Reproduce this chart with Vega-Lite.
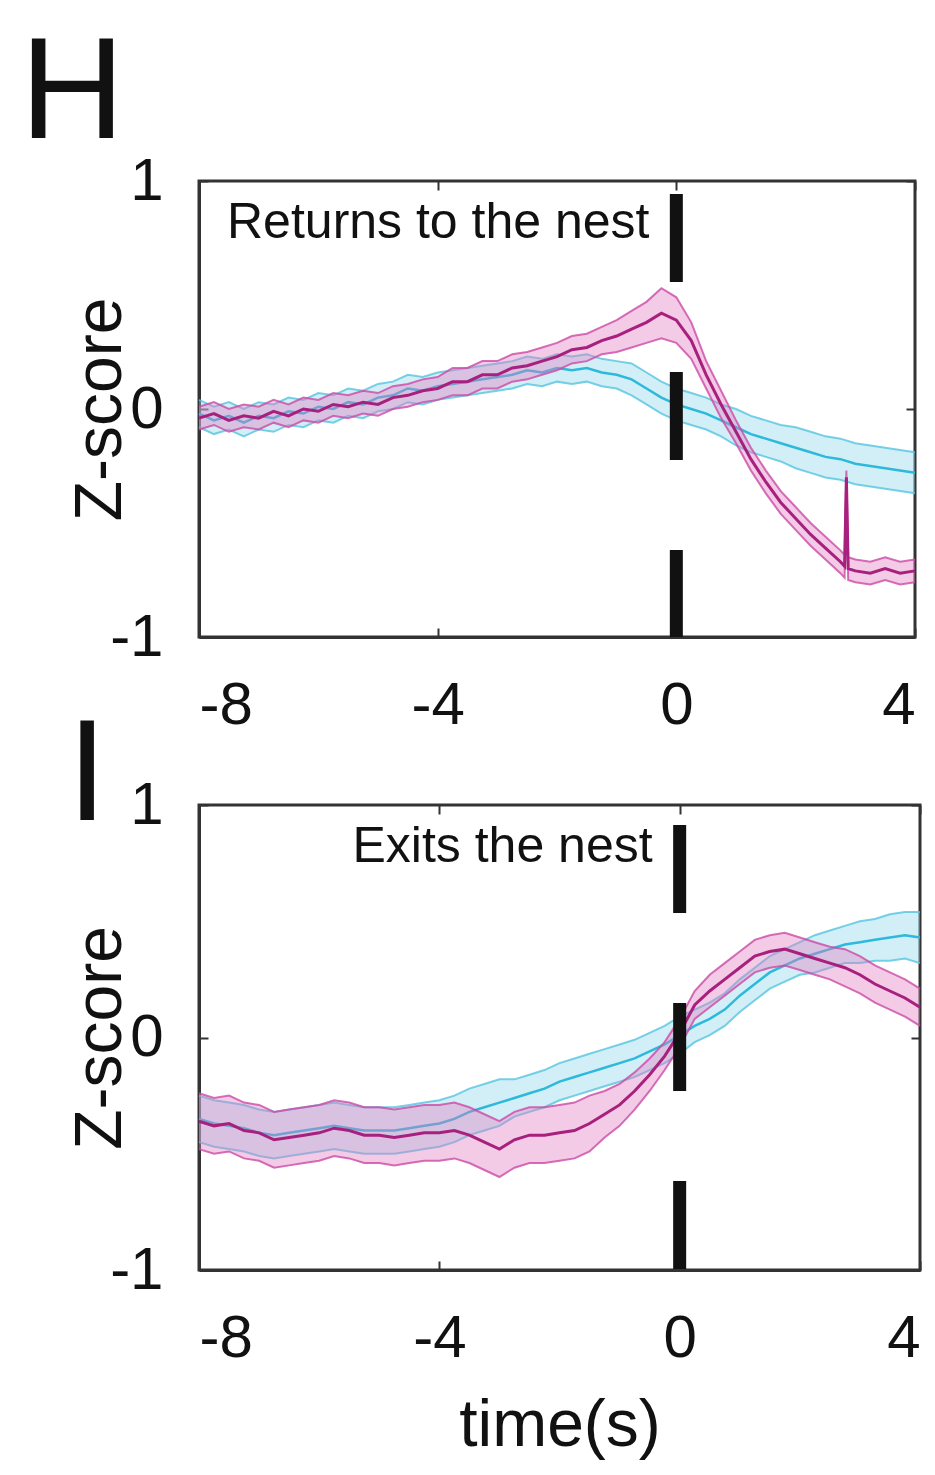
{
"$schema":"https://vega.github.io/schema/vega-lite/v6.json",
"padding":{"top":20,"left":18,"right":10,"bottom":10},
"background":"white",
"spacing":-35,
"config":{
 "font":"Liberation Sans",
 "view":{"stroke":"#333","strokeWidth":3},
 "axis":{"grid":false,"domainColor":"#333","domainWidth":3,"tickColor":"#333","tickWidth":2,"tickSize":-9,"labelFont":"Liberation Sans","labelFontSize":60,"labelColor":"#111","titleFont":"Liberation Sans","titleFontSize":66,"titleFontWeight":"normal","titleColor":"#111","labelExpr":"'' + datum.value"},
 "title":{"font":"Liberation Sans","fontWeight":"normal","color":"#111"}
},
"datasets":{"d":[
{"p":"H","g":"m","t":-8,"m":-0.04,"lo":-0.09,"hi":0.01},
{"p":"H","g":"m","t":-7.75,"m":-0.02,"lo":-0.07,"hi":0.03},
{"p":"H","g":"m","t":-7.5,"m":-0.05,"lo":-0.10,"hi":0.00},
{"p":"H","g":"m","t":-7.25,"m":-0.03,"lo":-0.08,"hi":0.02},
{"p":"H","g":"m","t":-7,"m":-0.04,"lo":-0.09,"hi":0.01},
{"p":"H","g":"m","t":-6.75,"m":-0.01,"lo":-0.06,"hi":0.04},
{"p":"H","g":"m","t":-6.5,"m":-0.03,"lo":-0.08,"hi":0.02},
{"p":"H","g":"m","t":-6.25,"m":0.00,"lo":-0.05,"hi":0.05},
{"p":"H","g":"m","t":-6,"m":-0.01,"lo":-0.06,"hi":0.04},
{"p":"H","g":"m","t":-5.75,"m":0.02,"lo":-0.03,"hi":0.07},
{"p":"H","g":"m","t":-5.5,"m":0.01,"lo":-0.04,"hi":0.06},
{"p":"H","g":"m","t":-5.25,"m":0.03,"lo":-0.02,"hi":0.08},
{"p":"H","g":"m","t":-5,"m":0.02,"lo":-0.03,"hi":0.07},
{"p":"H","g":"m","t":-4.75,"m":0.05,"lo":0.00,"hi":0.10},
{"p":"H","g":"m","t":-4.5,"m":0.06,"lo":0.01,"hi":0.11},
{"p":"H","g":"m","t":-4.25,"m":0.08,"lo":0.03,"hi":0.13},
{"p":"H","g":"m","t":-4,"m":0.09,"lo":0.04,"hi":0.14},
{"p":"H","g":"m","t":-3.75,"m":0.12,"lo":0.06,"hi":0.18},
{"p":"H","g":"m","t":-3.5,"m":0.12,"lo":0.06,"hi":0.18},
{"p":"H","g":"m","t":-3.25,"m":0.15,"lo":0.09,"hi":0.21},
{"p":"H","g":"m","t":-3,"m":0.15,"lo":0.09,"hi":0.21},
{"p":"H","g":"m","t":-2.75,"m":0.18,"lo":0.12,"hi":0.24},
{"p":"H","g":"m","t":-2.5,"m":0.19,"lo":0.13,"hi":0.25},
{"p":"H","g":"m","t":-2.25,"m":0.21,"lo":0.15,"hi":0.27},
{"p":"H","g":"m","t":-2,"m":0.23,"lo":0.17,"hi":0.29},
{"p":"H","g":"m","t":-1.75,"m":0.26,"lo":0.20,"hi":0.32},
{"p":"H","g":"m","t":-1.5,"m":0.27,"lo":0.21,"hi":0.33},
{"p":"H","g":"m","t":-1.25,"m":0.30,"lo":0.24,"hi":0.36},
{"p":"H","g":"m","t":-1,"m":0.32,"lo":0.25,"hi":0.39},
{"p":"H","g":"m","t":-0.75,"m":0.35,"lo":0.27,"hi":0.43},
{"p":"H","g":"m","t":-0.5,"m":0.38,"lo":0.29,"hi":0.47},
{"p":"H","g":"m","t":-0.25,"m":0.42,"lo":0.31,"hi":0.53},
{"p":"H","g":"m","t":0,"m":0.39,"lo":0.29,"hi":0.49},
{"p":"H","g":"m","t":0.25,"m":0.30,"lo":0.22,"hi":0.38},
{"p":"H","g":"m","t":0.5,"m":0.15,"lo":0.09,"hi":0.21},
{"p":"H","g":"m","t":0.75,"m":0.02,"lo":-0.04,"hi":0.08},
{"p":"H","g":"m","t":1,"m":-0.10,"lo":-0.15,"hi":-0.05},
{"p":"H","g":"m","t":1.25,"m":-0.22,"lo":-0.27,"hi":-0.17},
{"p":"H","g":"m","t":1.5,"m":-0.32,"lo":-0.37,"hi":-0.27},
{"p":"H","g":"m","t":1.75,"m":-0.41,"lo":-0.46,"hi":-0.36},
{"p":"H","g":"m","t":2,"m":-0.48,"lo":-0.53,"hi":-0.43},
{"p":"H","g":"m","t":2.25,"m":-0.55,"lo":-0.60,"hi":-0.50},
{"p":"H","g":"m","t":2.5,"m":-0.61,"lo":-0.66,"hi":-0.56},
{"p":"H","g":"m","t":2.75,"m":-0.67,"lo":-0.72,"hi":-0.62},
{"p":"H","g":"m","t":2.82,"m":-0.69,"lo":-0.74,"hi":-0.64},
{"p":"H","g":"m","t":2.85,"m":-0.30,"lo":-0.33,"hi":-0.27},
{"p":"H","g":"m","t":2.88,"m":-0.70,"lo":-0.75,"hi":-0.65},
{"p":"H","g":"m","t":3,"m":-0.71,"lo":-0.76,"hi":-0.66},
{"p":"H","g":"m","t":3.25,"m":-0.72,"lo":-0.77,"hi":-0.67},
{"p":"H","g":"m","t":3.5,"m":-0.70,"lo":-0.75,"hi":-0.65},
{"p":"H","g":"m","t":3.75,"m":-0.72,"lo":-0.77,"hi":-0.67},
{"p":"H","g":"m","t":4,"m":-0.71,"lo":-0.76,"hi":-0.66},
{"p":"H","g":"c","t":-8,"m":-0.02,"lo":-0.08,"hi":0.04},
{"p":"H","g":"c","t":-7.75,"m":-0.05,"lo":-0.11,"hi":0.01},
{"p":"H","g":"c","t":-7.5,"m":-0.03,"lo":-0.09,"hi":0.03},
{"p":"H","g":"c","t":-7.25,"m":-0.06,"lo":-0.12,"hi":0.00},
{"p":"H","g":"c","t":-7,"m":-0.03,"lo":-0.09,"hi":0.03},
{"p":"H","g":"c","t":-6.75,"m":-0.04,"lo":-0.10,"hi":0.02},
{"p":"H","g":"c","t":-6.5,"m":-0.01,"lo":-0.07,"hi":0.05},
{"p":"H","g":"c","t":-6.25,"m":-0.02,"lo":-0.08,"hi":0.04},
{"p":"H","g":"c","t":-6,"m":0.01,"lo":-0.05,"hi":0.07},
{"p":"H","g":"c","t":-5.75,"m":0.00,"lo":-0.06,"hi":0.06},
{"p":"H","g":"c","t":-5.5,"m":0.03,"lo":-0.03,"hi":0.09},
{"p":"H","g":"c","t":-5.25,"m":0.02,"lo":-0.04,"hi":0.08},
{"p":"H","g":"c","t":-5,"m":0.05,"lo":-0.01,"hi":0.11},
{"p":"H","g":"c","t":-4.75,"m":0.06,"lo":0.00,"hi":0.12},
{"p":"H","g":"c","t":-4.5,"m":0.09,"lo":0.03,"hi":0.15},
{"p":"H","g":"c","t":-4.25,"m":0.08,"lo":0.02,"hi":0.14},
{"p":"H","g":"c","t":-4,"m":0.10,"lo":0.04,"hi":0.16},
{"p":"H","g":"c","t":-3.75,"m":0.11,"lo":0.05,"hi":0.17},
{"p":"H","g":"c","t":-3.5,"m":0.12,"lo":0.06,"hi":0.18},
{"p":"H","g":"c","t":-3.25,"m":0.13,"lo":0.07,"hi":0.19},
{"p":"H","g":"c","t":-3,"m":0.14,"lo":0.08,"hi":0.20},
{"p":"H","g":"c","t":-2.75,"m":0.15,"lo":0.09,"hi":0.21},
{"p":"H","g":"c","t":-2.5,"m":0.17,"lo":0.11,"hi":0.23},
{"p":"H","g":"c","t":-2.25,"m":0.16,"lo":0.10,"hi":0.22},
{"p":"H","g":"c","t":-2,"m":0.18,"lo":0.12,"hi":0.24},
{"p":"H","g":"c","t":-1.75,"m":0.17,"lo":0.11,"hi":0.23},
{"p":"H","g":"c","t":-1.5,"m":0.18,"lo":0.12,"hi":0.24},
{"p":"H","g":"c","t":-1.25,"m":0.16,"lo":0.10,"hi":0.22},
{"p":"H","g":"c","t":-1,"m":0.15,"lo":0.09,"hi":0.21},
{"p":"H","g":"c","t":-0.75,"m":0.13,"lo":0.06,"hi":0.20},
{"p":"H","g":"c","t":-0.5,"m":0.09,"lo":0.02,"hi":0.16},
{"p":"H","g":"c","t":-0.25,"m":0.05,"lo":-0.02,"hi":0.12},
{"p":"H","g":"c","t":0,"m":0.02,"lo":-0.05,"hi":0.09},
{"p":"H","g":"c","t":0.25,"m":0.00,"lo":-0.07,"hi":0.07},
{"p":"H","g":"c","t":0.5,"m":-0.02,"lo":-0.09,"hi":0.05},
{"p":"H","g":"c","t":0.75,"m":-0.05,"lo":-0.12,"hi":0.02},
{"p":"H","g":"c","t":1,"m":-0.08,"lo":-0.16,"hi":0.00},
{"p":"H","g":"c","t":1.25,"m":-0.11,"lo":-0.19,"hi":-0.03},
{"p":"H","g":"c","t":1.5,"m":-0.13,"lo":-0.21,"hi":-0.05},
{"p":"H","g":"c","t":1.75,"m":-0.15,"lo":-0.23,"hi":-0.07},
{"p":"H","g":"c","t":2,"m":-0.17,"lo":-0.26,"hi":-0.08},
{"p":"H","g":"c","t":2.25,"m":-0.19,"lo":-0.28,"hi":-0.10},
{"p":"H","g":"c","t":2.5,"m":-0.21,"lo":-0.30,"hi":-0.12},
{"p":"H","g":"c","t":2.75,"m":-0.22,"lo":-0.31,"hi":-0.13},
{"p":"H","g":"c","t":3,"m":-0.24,"lo":-0.33,"hi":-0.15},
{"p":"H","g":"c","t":3.25,"m":-0.25,"lo":-0.34,"hi":-0.16},
{"p":"H","g":"c","t":3.5,"m":-0.26,"lo":-0.35,"hi":-0.17},
{"p":"H","g":"c","t":3.75,"m":-0.27,"lo":-0.36,"hi":-0.18},
{"p":"H","g":"c","t":4,"m":-0.28,"lo":-0.37,"hi":-0.19},
{"p":"I","g":"m","t":-8,"m":-0.36,"lo":-0.48,"hi":-0.24},
{"p":"I","g":"m","t":-7.75,"m":-0.38,"lo":-0.50,"hi":-0.26},
{"p":"I","g":"m","t":-7.5,"m":-0.37,"lo":-0.49,"hi":-0.25},
{"p":"I","g":"m","t":-7.25,"m":-0.40,"lo":-0.52,"hi":-0.28},
{"p":"I","g":"m","t":-7,"m":-0.41,"lo":-0.53,"hi":-0.29},
{"p":"I","g":"m","t":-6.75,"m":-0.44,"lo":-0.56,"hi":-0.32},
{"p":"I","g":"m","t":-6.5,"m":-0.43,"lo":-0.55,"hi":-0.31},
{"p":"I","g":"m","t":-6.25,"m":-0.42,"lo":-0.54,"hi":-0.30},
{"p":"I","g":"m","t":-6,"m":-0.41,"lo":-0.53,"hi":-0.29},
{"p":"I","g":"m","t":-5.75,"m":-0.39,"lo":-0.51,"hi":-0.27},
{"p":"I","g":"m","t":-5.5,"m":-0.40,"lo":-0.52,"hi":-0.28},
{"p":"I","g":"m","t":-5.25,"m":-0.42,"lo":-0.54,"hi":-0.30},
{"p":"I","g":"m","t":-5,"m":-0.42,"lo":-0.54,"hi":-0.30},
{"p":"I","g":"m","t":-4.75,"m":-0.43,"lo":-0.55,"hi":-0.31},
{"p":"I","g":"m","t":-4.5,"m":-0.42,"lo":-0.54,"hi":-0.30},
{"p":"I","g":"m","t":-4.25,"m":-0.41,"lo":-0.53,"hi":-0.29},
{"p":"I","g":"m","t":-4,"m":-0.41,"lo":-0.53,"hi":-0.29},
{"p":"I","g":"m","t":-3.75,"m":-0.40,"lo":-0.52,"hi":-0.28},
{"p":"I","g":"m","t":-3.5,"m":-0.42,"lo":-0.54,"hi":-0.30},
{"p":"I","g":"m","t":-3.25,"m":-0.45,"lo":-0.57,"hi":-0.33},
{"p":"I","g":"m","t":-3,"m":-0.48,"lo":-0.60,"hi":-0.36},
{"p":"I","g":"m","t":-2.75,"m":-0.44,"lo":-0.56,"hi":-0.32},
{"p":"I","g":"m","t":-2.5,"m":-0.42,"lo":-0.54,"hi":-0.30},
{"p":"I","g":"m","t":-2.25,"m":-0.42,"lo":-0.54,"hi":-0.30},
{"p":"I","g":"m","t":-2,"m":-0.41,"lo":-0.53,"hi":-0.29},
{"p":"I","g":"m","t":-1.75,"m":-0.40,"lo":-0.52,"hi":-0.28},
{"p":"I","g":"m","t":-1.5,"m":-0.37,"lo":-0.49,"hi":-0.25},
{"p":"I","g":"m","t":-1.25,"m":-0.33,"lo":-0.43,"hi":-0.23},
{"p":"I","g":"m","t":-1,"m":-0.29,"lo":-0.38,"hi":-0.20},
{"p":"I","g":"m","t":-0.75,"m":-0.23,"lo":-0.31,"hi":-0.15},
{"p":"I","g":"m","t":-0.5,"m":-0.16,"lo":-0.23,"hi":-0.09},
{"p":"I","g":"m","t":-0.25,"m":-0.08,"lo":-0.14,"hi":-0.02},
{"p":"I","g":"m","t":0,"m":0.02,"lo":-0.04,"hi":0.08},
{"p":"I","g":"m","t":0.25,"m":0.14,"lo":0.08,"hi":0.20},
{"p":"I","g":"m","t":0.5,"m":0.20,"lo":0.13,"hi":0.27},
{"p":"I","g":"m","t":0.75,"m":0.25,"lo":0.18,"hi":0.32},
{"p":"I","g":"m","t":1,"m":0.30,"lo":0.23,"hi":0.37},
{"p":"I","g":"m","t":1.25,"m":0.35,"lo":0.28,"hi":0.42},
{"p":"I","g":"m","t":1.5,"m":0.37,"lo":0.30,"hi":0.44},
{"p":"I","g":"m","t":1.75,"m":0.38,"lo":0.31,"hi":0.45},
{"p":"I","g":"m","t":2,"m":0.36,"lo":0.29,"hi":0.43},
{"p":"I","g":"m","t":2.25,"m":0.34,"lo":0.27,"hi":0.41},
{"p":"I","g":"m","t":2.5,"m":0.32,"lo":0.25,"hi":0.39},
{"p":"I","g":"m","t":2.75,"m":0.30,"lo":0.22,"hi":0.38},
{"p":"I","g":"m","t":3,"m":0.27,"lo":0.19,"hi":0.35},
{"p":"I","g":"m","t":3.25,"m":0.23,"lo":0.15,"hi":0.31},
{"p":"I","g":"m","t":3.5,"m":0.20,"lo":0.12,"hi":0.28},
{"p":"I","g":"m","t":3.75,"m":0.17,"lo":0.09,"hi":0.25},
{"p":"I","g":"m","t":4,"m":0.13,"lo":0.05,"hi":0.21},
{"p":"I","g":"c","t":-8,"m":-0.35,"lo":-0.45,"hi":-0.25},
{"p":"I","g":"c","t":-7.75,"m":-0.37,"lo":-0.47,"hi":-0.27},
{"p":"I","g":"c","t":-7.5,"m":-0.38,"lo":-0.48,"hi":-0.28},
{"p":"I","g":"c","t":-7.25,"m":-0.39,"lo":-0.49,"hi":-0.29},
{"p":"I","g":"c","t":-7,"m":-0.41,"lo":-0.51,"hi":-0.31},
{"p":"I","g":"c","t":-6.75,"m":-0.42,"lo":-0.52,"hi":-0.32},
{"p":"I","g":"c","t":-6.5,"m":-0.41,"lo":-0.51,"hi":-0.31},
{"p":"I","g":"c","t":-6.25,"m":-0.40,"lo":-0.50,"hi":-0.30},
{"p":"I","g":"c","t":-6,"m":-0.39,"lo":-0.49,"hi":-0.29},
{"p":"I","g":"c","t":-5.75,"m":-0.38,"lo":-0.48,"hi":-0.28},
{"p":"I","g":"c","t":-5.5,"m":-0.39,"lo":-0.49,"hi":-0.29},
{"p":"I","g":"c","t":-5.25,"m":-0.40,"lo":-0.50,"hi":-0.30},
{"p":"I","g":"c","t":-5,"m":-0.40,"lo":-0.50,"hi":-0.30},
{"p":"I","g":"c","t":-4.75,"m":-0.40,"lo":-0.50,"hi":-0.30},
{"p":"I","g":"c","t":-4.5,"m":-0.39,"lo":-0.49,"hi":-0.29},
{"p":"I","g":"c","t":-4.25,"m":-0.38,"lo":-0.48,"hi":-0.28},
{"p":"I","g":"c","t":-4,"m":-0.37,"lo":-0.47,"hi":-0.27},
{"p":"I","g":"c","t":-3.75,"m":-0.35,"lo":-0.45,"hi":-0.25},
{"p":"I","g":"c","t":-3.5,"m":-0.32,"lo":-0.42,"hi":-0.22},
{"p":"I","g":"c","t":-3.25,"m":-0.30,"lo":-0.40,"hi":-0.20},
{"p":"I","g":"c","t":-3,"m":-0.28,"lo":-0.38,"hi":-0.18},
{"p":"I","g":"c","t":-2.75,"m":-0.26,"lo":-0.34,"hi":-0.18},
{"p":"I","g":"c","t":-2.5,"m":-0.24,"lo":-0.32,"hi":-0.16},
{"p":"I","g":"c","t":-2.25,"m":-0.22,"lo":-0.30,"hi":-0.14},
{"p":"I","g":"c","t":-2,"m":-0.19,"lo":-0.27,"hi":-0.11},
{"p":"I","g":"c","t":-1.75,"m":-0.17,"lo":-0.25,"hi":-0.09},
{"p":"I","g":"c","t":-1.5,"m":-0.15,"lo":-0.23,"hi":-0.07},
{"p":"I","g":"c","t":-1.25,"m":-0.13,"lo":-0.21,"hi":-0.05},
{"p":"I","g":"c","t":-1,"m":-0.11,"lo":-0.19,"hi":-0.03},
{"p":"I","g":"c","t":-0.75,"m":-0.09,"lo":-0.17,"hi":-0.01},
{"p":"I","g":"c","t":-0.5,"m":-0.06,"lo":-0.14,"hi":0.02},
{"p":"I","g":"c","t":-0.25,"m":-0.03,"lo":-0.11,"hi":0.05},
{"p":"I","g":"c","t":0,"m":0.01,"lo":-0.07,"hi":0.09},
{"p":"I","g":"c","t":0.25,"m":0.05,"lo":-0.02,"hi":0.12},
{"p":"I","g":"c","t":0.5,"m":0.08,"lo":0.01,"hi":0.15},
{"p":"I","g":"c","t":0.75,"m":0.12,"lo":0.05,"hi":0.19},
{"p":"I","g":"c","t":1,"m":0.18,"lo":0.11,"hi":0.25},
{"p":"I","g":"c","t":1.25,"m":0.23,"lo":0.16,"hi":0.30},
{"p":"I","g":"c","t":1.5,"m":0.28,"lo":0.21,"hi":0.35},
{"p":"I","g":"c","t":1.75,"m":0.31,"lo":0.24,"hi":0.38},
{"p":"I","g":"c","t":2,"m":0.34,"lo":0.27,"hi":0.41},
{"p":"I","g":"c","t":2.25,"m":0.36,"lo":0.28,"hi":0.44},
{"p":"I","g":"c","t":2.5,"m":0.38,"lo":0.30,"hi":0.46},
{"p":"I","g":"c","t":2.75,"m":0.40,"lo":0.32,"hi":0.48},
{"p":"I","g":"c","t":3,"m":0.41,"lo":0.32,"hi":0.50},
{"p":"I","g":"c","t":3.25,"m":0.42,"lo":0.33,"hi":0.51},
{"p":"I","g":"c","t":3.5,"m":0.43,"lo":0.33,"hi":0.53},
{"p":"I","g":"c","t":3.75,"m":0.44,"lo":0.34,"hi":0.54},
{"p":"I","g":"c","t":4,"m":0.43,"lo":0.32,"hi":0.54}
]},
"vconcat":[
{
 "width":716,"height":456,
 "title":{"text":"H","fontSize":145,"anchor":"start","frame":"group","dx":-179,"baseline":"alphabetic","offset":-132},
 "resolve":{"axis":{"x":"independent","y":"independent"}},
 "layer":[
  {"data":{"name":"d"},"transform":[{"filter":"datum.p=='H' && datum.g=='c'"}],
   "mark":{"type":"area","opacity":0.4,"color":"#8FD7EC"},
   "encoding":{
    "x":{"field":"t","type":"quantitative","scale":{"domain":[-8,4]},"axis":{"values":[-8,-4,0,4],"title":null,"labelPadding":48}},
    "y":{"field":"lo","type":"quantitative","scale":{"domain":[-1,1]},"axis":{"values":[-1,0,1],"title":"Z-score","labelPadding":45,"titlePadding":-25}},
    "y2":{"field":"hi"}}},
  {"data":{"name":"d"},"transform":[{"filter":"datum.p=='H' && datum.g=='c'"}],
   "mark":{"type":"line","strokeWidth":2,"color":"#55C4E0","opacity":0.8},
   "encoding":{"x":{"field":"t","type":"quantitative","axis":null},"y":{"field":"lo","type":"quantitative","axis":null}}},
  {"data":{"name":"d"},"transform":[{"filter":"datum.p=='H' && datum.g=='c'"}],
   "mark":{"type":"line","strokeWidth":2,"color":"#55C4E0","opacity":0.8},
   "encoding":{"x":{"field":"t","type":"quantitative","axis":null},"y":{"field":"hi","type":"quantitative","axis":null}}},
  {"data":{"name":"d"},"transform":[{"filter":"datum.p=='H' && datum.g=='c'"}],
   "mark":{"type":"line","strokeWidth":2.5,"color":"#2DB9DC"},
   "encoding":{"x":{"field":"t","type":"quantitative","axis":null},"y":{"field":"m","type":"quantitative","axis":null}}},
  {"data":{"name":"d"},"transform":[{"filter":"datum.p=='H' && datum.g=='m'"}],
   "mark":{"type":"area","opacity":0.4,"color":"#E27CC0"},
   "encoding":{"x":{"field":"t","type":"quantitative","axis":null},"y":{"field":"lo","type":"quantitative","axis":null},"y2":{"field":"hi"}}},
  {"data":{"name":"d"},"transform":[{"filter":"datum.p=='H' && datum.g=='m'"}],
   "mark":{"type":"line","strokeWidth":2,"color":"#CC4AA6","opacity":0.8},
   "encoding":{"x":{"field":"t","type":"quantitative","axis":null},"y":{"field":"lo","type":"quantitative","axis":null}}},
  {"data":{"name":"d"},"transform":[{"filter":"datum.p=='H' && datum.g=='m'"}],
   "mark":{"type":"line","strokeWidth":2,"color":"#CC4AA6","opacity":0.8},
   "encoding":{"x":{"field":"t","type":"quantitative","axis":null},"y":{"field":"hi","type":"quantitative","axis":null}}},
  {"data":{"name":"d"},"transform":[{"filter":"datum.p=='H' && datum.g=='m'"}],
   "mark":{"type":"line","strokeWidth":3,"color":"#A8207E"},
   "encoding":{"x":{"field":"t","type":"quantitative","axis":null},"y":{"field":"m","type":"quantitative","axis":null}}},
  {"data":{"values":[{"t":0,"z":0}]},
   "mark":{"type":"point","opacity":0},
   "encoding":{
    "x":{"field":"t","type":"quantitative","axis":{"orient":"top","values":[-8,-4,0,4],"labels":false,"title":null,"domain":false}},
    "y":{"field":"z","type":"quantitative","axis":{"orient":"right","values":[-1,0,1],"labels":false,"title":null,"domain":false}}}},
  {"data":{"values":[{"t":0}]},
   "mark":{"type":"rule","color":"#111","strokeWidth":13,"strokeDash":[88,90],"strokeDashOffset":165},
   "encoding":{"x":{"field":"t","type":"quantitative","axis":null},"y":{"datum":1,"axis":null},"y2":{"datum":-1}}},
  {"data":{"values":[{"label":"Returns to the nest"}]},
   "mark":{"type":"text","align":"right","baseline":"alphabetic","fontSize":50,"color":"#111","font":"Liberation Sans"},
   "encoding":{"x":{"datum":-0.45,"axis":null},"y":{"datum":0.75,"axis":null},"text":{"field":"label"}}}
 ]
},
{
 "width":721,"height":465,
 "title":{"text":"I","fontSize":145,"anchor":"start","frame":"group","dx":-132,"baseline":"alphabetic","offset":-190},
 "resolve":{"axis":{"x":"independent","y":"independent"}},
 "layer":[
  {"data":{"name":"d"},"transform":[{"filter":"datum.p=='I' && datum.g=='c'"}],
   "mark":{"type":"area","opacity":0.4,"color":"#8FD7EC"},
   "encoding":{
    "x":{"field":"t","type":"quantitative","scale":{"domain":[-8,4]},"axis":{"values":[-8,-4,0,4],"title":"time(s)","labelPadding":48,"titlePadding":25}},
    "y":{"field":"lo","type":"quantitative","scale":{"domain":[-1,1]},"axis":{"values":[-1,0,1],"title":"Z-score","labelPadding":45,"titlePadding":-25}},
    "y2":{"field":"hi"}}},
  {"data":{"name":"d"},"transform":[{"filter":"datum.p=='I' && datum.g=='c'"}],
   "mark":{"type":"line","strokeWidth":2,"color":"#55C4E0","opacity":0.8},
   "encoding":{"x":{"field":"t","type":"quantitative","axis":null},"y":{"field":"lo","type":"quantitative","axis":null}}},
  {"data":{"name":"d"},"transform":[{"filter":"datum.p=='I' && datum.g=='c'"}],
   "mark":{"type":"line","strokeWidth":2,"color":"#55C4E0","opacity":0.8},
   "encoding":{"x":{"field":"t","type":"quantitative","axis":null},"y":{"field":"hi","type":"quantitative","axis":null}}},
  {"data":{"name":"d"},"transform":[{"filter":"datum.p=='I' && datum.g=='c'"}],
   "mark":{"type":"line","strokeWidth":2.5,"color":"#2DB9DC"},
   "encoding":{"x":{"field":"t","type":"quantitative","axis":null},"y":{"field":"m","type":"quantitative","axis":null}}},
  {"data":{"name":"d"},"transform":[{"filter":"datum.p=='I' && datum.g=='m'"}],
   "mark":{"type":"area","opacity":0.4,"color":"#E27CC0"},
   "encoding":{"x":{"field":"t","type":"quantitative","axis":null},"y":{"field":"lo","type":"quantitative","axis":null},"y2":{"field":"hi"}}},
  {"data":{"name":"d"},"transform":[{"filter":"datum.p=='I' && datum.g=='m'"}],
   "mark":{"type":"line","strokeWidth":2,"color":"#CC4AA6","opacity":0.8},
   "encoding":{"x":{"field":"t","type":"quantitative","axis":null},"y":{"field":"lo","type":"quantitative","axis":null}}},
  {"data":{"name":"d"},"transform":[{"filter":"datum.p=='I' && datum.g=='m'"}],
   "mark":{"type":"line","strokeWidth":2,"color":"#CC4AA6","opacity":0.8},
   "encoding":{"x":{"field":"t","type":"quantitative","axis":null},"y":{"field":"hi","type":"quantitative","axis":null}}},
  {"data":{"name":"d"},"transform":[{"filter":"datum.p=='I' && datum.g=='m'"}],
   "mark":{"type":"line","strokeWidth":3,"color":"#A8207E"},
   "encoding":{"x":{"field":"t","type":"quantitative","axis":null},"y":{"field":"m","type":"quantitative","axis":null}}},
  {"data":{"values":[{"t":0,"z":0}]},
   "mark":{"type":"point","opacity":0},
   "encoding":{
    "x":{"field":"t","type":"quantitative","axis":{"orient":"top","values":[-8,-4,0,4],"labels":false,"title":null,"domain":false}},
    "y":{"field":"z","type":"quantitative","axis":{"orient":"right","values":[-1,0,1],"labels":false,"title":null,"domain":false}}}},
  {"data":{"values":[{"t":0}]},
   "mark":{"type":"rule","color":"#111","strokeWidth":13,"strokeDash":[88,90],"strokeDashOffset":158},
   "encoding":{"x":{"field":"t","type":"quantitative","axis":null},"y":{"datum":1,"axis":null},"y2":{"datum":-1}}},
  {"data":{"values":[{"label":"Exits the nest"}]},
   "mark":{"type":"text","align":"right","baseline":"alphabetic","fontSize":50,"color":"#111","font":"Liberation Sans"},
   "encoding":{"x":{"datum":-0.45,"axis":null},"y":{"datum":0.755,"axis":null},"text":{"field":"label"}}}
 ]
}
]
}
